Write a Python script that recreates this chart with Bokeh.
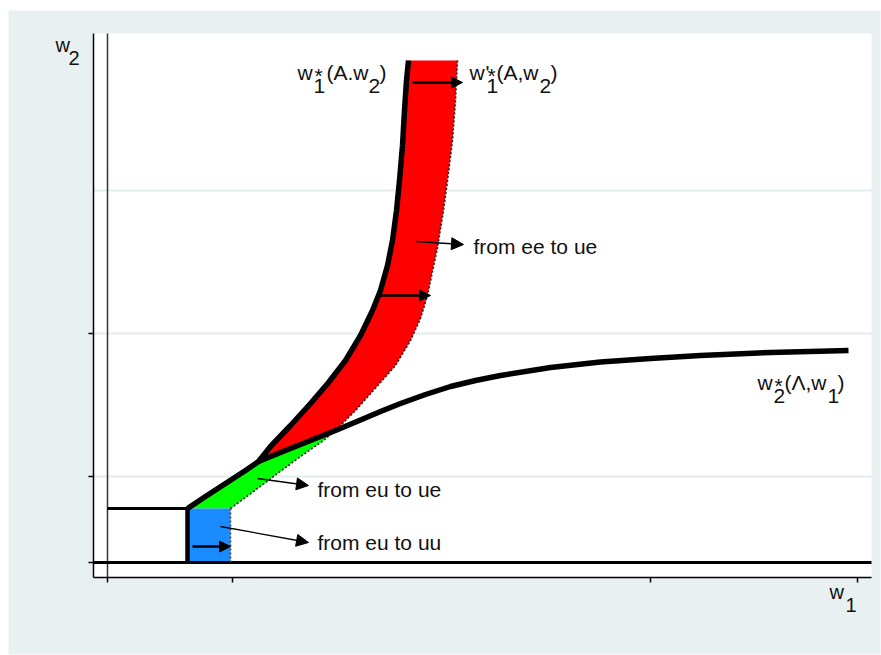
from bokeh.plotting import figure
from bokeh.models import (Arrow, NormalHead, Label, FixedTicker, Range1d,
                          LinearAxis, CustomJSTickFormatter)
from bokeh.embed import file_html
from bokeh.resources import INLINE

# ---------------- data (arbitrary wage units) ----------------
# w1*(A,w2): threshold curve (thick black), from the kink upward
w1_star_x = [8.0, 9.8, 11.8, 13.8, 15.1, 16.3, 18.3, 20.3, 22.1, 23.8, 25.3, 26.5,
             27.3, 28.0, 28.5, 28.9, 29.2, 29.5, 29.7, 29.9, 30.1]
w1_star_y = [5.4, 6.6, 7.9, 9.2, 10.1, 11.6, 13.7, 15.9, 18.0, 20.2, 22.7, 25.2,
             27.2, 29.7, 32.2, 35.2, 38.2, 41.7, 45.2, 48.2, 50.2]
junction_idx = 4

# w1'*(A,w2): shifted threshold curve (dotted)
w1p_x = [12.3, 14.6, 17.0, 19.3, 21.6, 22.8, 24.8, 27.3, 28.8, 30.3, 31.3, 32.0,
         33.0, 33.6, 34.0, 34.5, 34.8, 35.0]
w1p_y = [5.4, 7.1, 8.9, 10.6, 12.2, 13.2, 15.2, 18.0, 19.7, 22.2, 24.4, 26.7,
         31.5, 35.2, 38.2, 42.2, 46.2, 50.2]
w1p_cross_idx = 5

# w2*(Lambda,w1): threshold curve (thick black)
w2_star_x = [15.1, 17.3, 19.3, 21.3, 22.8, 25.3, 27.3, 29.3, 31.8, 34.3, 36.8,
             39.3, 44.3, 49.3, 54.3, 59.3, 66.3, 74.1]
w2_star_y = [10.1, 11.0, 11.8, 12.6, 13.2, 14.25, 15.1, 15.9, 16.8, 17.6, 18.2,
             18.7, 19.5, 20.05, 20.4, 20.7, 21.0, 21.2]
w2_cross_idx = 4

# reservation wage box (eu -> uu region)
box_x0, box_x1 = 8.0, 12.3
box_y0, box_y1 = 0.0, 5.4

# axes / plot region in data units
x_lo, x_hi = -1.4, 76.4
y_lo, y_hi = -1.5, 52.9
x_ticks = [0, 12.5, 54.3, 75.0]
y_ticks = [0, 8.6, 22.9]
y_grid = [8.6, 22.9, 37.2]

FONT = "Liberation Sans"
BG = "#e8f0f2"
TEXT_LIFT = 6  # px

p = figure(width=881, height=655, output_backend="svg", toolbar_location=None,
           x_range=Range1d(-10.7, 77.4), y_range=Range1d(-9.3, 56.2),
           x_axis_type=None, y_axis_type=None, min_border=0,
           min_border_left=0, min_border_right=0, min_border_top=0,
           min_border_bottom=0)
p.title.visible = False
p.background_fill_color = "white"
p.border_fill_color = "white"
p.outline_line_color = None

# graph region (grey) and plot region (white)
p.quad(left=[-9.9], right=[77.3], bottom=[-9.2], top=[55.2],
       fill_color=BG, line_color=None, level="image")
p.quad(left=[x_lo], right=[x_hi], bottom=[y_lo], top=[y_hi],
       fill_color="white", line_color=None, level="image")

# horizontal grid lines inside the plot region
p.segment(x0=[x_lo] * len(y_grid), x1=[x_hi] * len(y_grid), y0=y_grid, y1=y_grid,
          line_color="#e3ecee", line_width=2)

blank = CustomJSTickFormatter(code="return ''")
yax = LinearAxis(fixed_location=x_lo, bounds=(y_lo, y_hi),
                 ticker=FixedTicker(ticks=y_ticks), formatter=blank)
xax = LinearAxis(fixed_location=y_lo, bounds=(x_lo, x_hi),
                 ticker=FixedTicker(ticks=x_ticks), formatter=blank)
for ax in (xax, yax):
    ax.axis_line_color = "black"
    ax.axis_line_width = 1.5
    ax.major_tick_line_color = "black"
    ax.major_tick_line_width = 1.5
    ax.major_tick_out = 5
    ax.major_tick_in = 0
    ax.minor_tick_line_color = None
p.add_layout(yax, "left")
p.add_layout(xax, "below")

# ---------------- filled regions ----------------
red_x = (w1_star_x[junction_idx:] + w1p_x[w1p_cross_idx:][::-1]
         + w2_star_x[:w2_cross_idx + 1][::-1])
red_y = (w1_star_y[junction_idx:] + w1p_y[w1p_cross_idx:][::-1]
         + w2_star_y[:w2_cross_idx + 1][::-1])
p.patch(red_x, red_y, fill_color="#ff0000", line_color=None)

green_x = (w1_star_x[:junction_idx + 1] + w2_star_x[1:w2_cross_idx + 1]
           + w1p_x[:w1p_cross_idx + 1][::-1])
green_y = (w1_star_y[:junction_idx + 1] + w2_star_y[1:w2_cross_idx + 1]
           + w1p_y[:w1p_cross_idx + 1][::-1])
p.patch(green_x, green_y, fill_color="#00ff00", line_color=None)

p.quad(left=[box_x0], right=[box_x1], bottom=[box_y0], top=[box_y1],
       fill_color="#1a8cff", line_color=None)

# ---------------- reference lines ----------------
p.line([0, 0], [y_lo, y_hi], line_color="#333333", line_width=1.5)
p.line([x_lo, x_hi], [0, 0], line_color="black", line_width=3)

p.line(w1p_x, w1p_y, line_color="#222222", line_width=1.6, line_dash="2 2")
p.line([box_x1, box_x1], [box_y0, box_y1], line_color="#444444", line_width=1.6,
       line_dash="2 2")

p.line([0, box_x0], [box_y1, box_y1], line_color="black", line_width=3)
p.line([box_x0, box_x0], [box_y0, box_y1], line_color="black", line_width=4.5)
p.line(w1_star_x, w1_star_y, line_color="black", line_width=5.5, line_join="round")
p.line(w2_star_x, w2_star_y, line_color="black", line_width=5.5, line_join="round")

# ---------------- arrows ----------------
def arrow(x0, y0, x1, y1, lw, size):
    p.add_layout(Arrow(x_start=x0, y_start=y0, x_end=x1, y_end=y1,
                       line_color="black", line_width=lw,
                       end=NormalHead(size=size, fill_color="black",
                                      line_color="black", line_width=1)))

arrow(30.5, 48.0, 35.5, 48.0, 2.5, 11)   # top shift arrow
arrow(27.1, 26.7, 32.3, 26.7, 2.5, 11)   # red shift arrow
arrow(8.5, 1.6, 12.3, 1.6, 2.5, 11)      # blue shift arrow
arrow(30.8, 32.1, 35.6, 31.8, 1.3, 12)   # pointer ee
arrow(15.0, 8.4, 20.1, 7.7, 1.3, 12)     # pointer eu->ue
arrow(11.3, 3.6, 20.1, 2.0, 1.3, 12)     # pointer eu->uu

# ---------------- texts ----------------
def pieces(x, y, parts, size=21, color="#111111"):
    for txt, dx, dy in parts:
        p.add_layout(Label(x=x, y=y, x_offset=dx, y_offset=TEXT_LIFT - dy,
                           text=txt, text_font=FONT,
                           text_font_size=f"{size}px", text_color=color,
                           text_baseline="alphabetic", text_align="left"))

pieces(36.6, 31.0, [("from ee to ue", 0, 0)])
pieces(21.0, 6.7, [("from eu to ue", 0, 0)])
pieces(21.0, 1.4, [("from eu to uu", 0, 0)])

# w1*(A.w2)
pieces(19.0, 48.4, [("w", 0, 0), ("1", 16, 13), ("*", 17, 3), ("(A.w", 29, 0),
                    ("2", 71, 13), (")", 82, 0)])
# w'1*(A,w2)
pieces(36.2, 48.4, [("w", 0, 0), ("'", 16, 0), ("1", 17, 13), ("*", 18, 3),
                    ("(A,w", 27, 0), ("2", 70, 13), (")", 81, 0)])
# w2*(Λ,w1)
pieces(65.0, 17.4, [("w", 0, 0), ("2", 16, 13), ("*", 17, 3), ("(Λ,w", 27, 0),
                    ("1", 70, 13), (")", 80, 0)])

# axis titles
pieces(-5.2, 51.2, [("w", 0, 0), ("2", 13, 13)], size=20)
pieces(72.2, -3.5, [("w", 0, 0), ("1", 16, 13)], size=20)
pieces(15.2, -2.0, [("\u2013", 0, 0)], size=11, color="#aaaaaa")

open("out.html", "w").write(file_html(p, INLINE))
